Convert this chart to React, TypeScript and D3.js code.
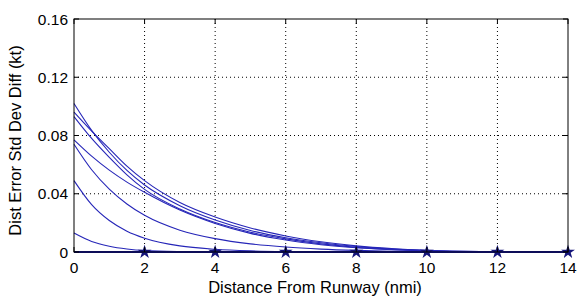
import React from "react";
import * as d3 from "d3";

const xs = [0, 0.5, 1, 1.5, 2, 3, 4, 5, 6, 7, 8, 9, 10, 11, 12, 13, 14];
const curve1 = [0.102, 0.0835, 0.0685, 0.056, 0.046, 0.0318, 0.022, 0.0148, 0.0098, 0.0063, 0.0038, 0.0021, 0.001, 0.0004, 0.0001, 0, 0];
const curve2 = [0.096, 0.083, 0.071, 0.059, 0.049, 0.034, 0.024, 0.0165, 0.011, 0.007, 0.0042, 0.0023, 0.0011, 0.0004, 0.0001, 0, 0];
const curve3 = [0.093, 0.078, 0.065, 0.053, 0.043, 0.0295, 0.0202, 0.0136, 0.009, 0.0056, 0.0032, 0.0017, 0.0007, 0.0002, 0, 0, 0];
const curve4 = [0.077, 0.0658, 0.0562, 0.048, 0.041, 0.0288, 0.0196, 0.0128, 0.0082, 0.005, 0.0029, 0.0015, 0.0007, 0.0002, 0, 0, 0];
const curve5 = [0.074, 0.0565, 0.0432, 0.033, 0.0252, 0.015, 0.0092, 0.0056, 0.0034, 0.002, 0.0011, 0.0005, 0.0002, 0, 0, 0, 0];
const curve6 = [0.049, 0.0325, 0.0216, 0.0143, 0.0095, 0.0042, 0.0019, 0.0008, 0.0003, 0.0001, 0, 0, 0, 0, 0, 0, 0];
const curve7 = [0.013, 0.0072, 0.004, 0.0021, 0.001, 0.0003, 0.0001, 0, 0, 0, 0, 0, 0, 0, 0, 0, 0];
const curves = [curve1, curve2, curve3, curve4, curve5, curve6, curve7];

const starXs = [2, 4, 6, 8, 10, 12, 14];
const starYs = [0, 0, 0, 0, 0, 0, 0];

const xTicks = [0, 2, 4, 6, 8, 10, 12, 14];
const yTicks = [0, 0.04, 0.08, 0.12, 0.16];
const yTickLabels = ["0", "0.04", "0.08", "0.12", "0.16"];

const W = 577, H = 299;
const L = 74, R = 568, T = 19, B = 252;

export default function App() {
  const x = d3.scaleLinear().domain([0, 14]).range([L, R]);
  const y = d3.scaleLinear().domain([0, 0.16]).range([B, T]);
  const line = d3
    .line<number>()
    .x((_, i) => x(xs[i]))
    .y((d) => y(d))
    .curve(d3.curveMonotoneX);
  const star = d3.symbol().type(d3.symbolStar).size(60)();
  const font = "'Liberation Sans', Arial, sans-serif";
  return (
    <svg
      width={W}
      height={H}
      style={{ position: "absolute", left: 0, top: 0, background: "#fff" }}
      fontFamily={font}
    >
      <rect x={0} y={0} width={W} height={H} fill="#fff" />
      {xTicks.slice(1, -1).map((t) => (
        <line key={"gx" + t} x1={x(t)} x2={x(t)} y1={T} y2={B} stroke="#000" strokeWidth={1} strokeDasharray="1,3" />
      ))}
      {yTicks.slice(1, -1).map((t) => (
        <line key={"gy" + t} x1={L} x2={R} y1={y(t)} y2={y(t)} stroke="#000" strokeWidth={1} strokeDasharray="1,3" />
      ))}
      {curves.map((c, i) => (
        <path key={i} d={line(c) || ""} fill="none" stroke="#2626b8" strokeWidth={1.1} />
      ))}
      <line x1={x(0)} x2={x(14)} y1={y(0)} y2={y(0)} stroke="#1a1ab0" strokeWidth={2} />
      {starXs.map((sx, i) => (
        <path key={"s" + i} d={star || ""} transform={`translate(${x(sx)},${y(starYs[i])})`} fill="#14147a" />
      ))}
      <rect x={L} y={T} width={R - L} height={B - T} fill="none" stroke="#000" strokeWidth={1} />
      {xTicks.map((t) => (
        <g key={"tx" + t}>
          <line x1={x(t)} x2={x(t)} y1={B} y2={B - 5} stroke="#000" />
          <line x1={x(t)} x2={x(t)} y1={T} y2={T + 5} stroke="#000" />
          <text x={x(t)} y={273} textAnchor="middle" fontSize={15.5} fill="#000">
            {t}
          </text>
        </g>
      ))}
      {yTicks.map((t, i) => (
        <g key={"ty" + t}>
          <line x1={L} x2={L + 5} y1={y(t)} y2={y(t)} stroke="#000" />
          <line x1={R} x2={R - 5} y1={y(t)} y2={y(t)} stroke="#000" />
          <text x={68} y={y(t) + 5.5} textAnchor="end" fontSize={15.5} fill="#000">
            {yTickLabels[i]}
          </text>
        </g>
      ))}
      <text x={315} y={293} textAnchor="middle" fontSize={16.5} fill="#000">
        Distance From Runway (nmi)
      </text>
      <text
        transform={`translate(21,${(T + B) / 2 + 5}) rotate(-90)`}
        textAnchor="middle"
        fontSize={16.5}
        fill="#000"
      >
        Dist Error Std Dev Diff (kt)
      </text>
    </svg>
  );
}
